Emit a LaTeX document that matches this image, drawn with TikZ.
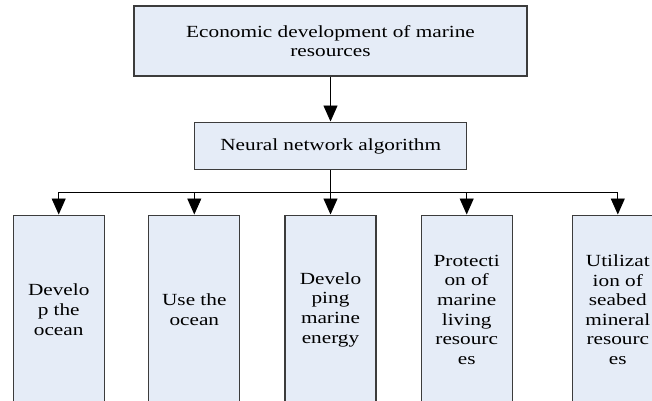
\documentclass[tikz,border=0pt]{standalone}
\usepackage{fontspec}
\setmainfont[FakeStretch=1.25]{Liberation Serif}
\usetikzlibrary{arrows.meta}
\definecolor{boxfill}{RGB}{229,236,247}
\definecolor{boxline}{RGB}{60,60,60}
\tikzset{
  box/.style={draw=boxline, line width=1.2pt, fill=boxfill, align=center, inner sep=0pt,
    font=\fontsize{17}{19.6}\selectfont},
  tallbox/.style={box, minimum width=91pt, minimum height=188pt},
  conn/.style={line width=0.9pt, black},
  arr/.style={conn, -{Triangle[length=16pt, width=14pt]}, shorten >=0.6pt}
}
\begin{document}
\begin{tikzpicture}[x=1pt, y=-1pt]
\useasboundingbox (0,0) rectangle (652,400);
\begin{scope}
\clip (0,0) rectangle (652,400);
\node[box, minimum width=393pt, minimum height=70pt] (top) at (330.5,41)
  {Economic development of marine\\resources};
\node[box, minimum width=272pt, minimum height=46.6pt] (nn) at (330.7,146)
  {Neural network algorithm};
\node[tallbox] (b1) at (58.7,309.7) {Develo\\p the\\ocean};
\node[tallbox] (b2) at (194.3,309.7) {Use the\\ocean};
\node[tallbox] (b3) at (330.5,309.7) {Develo\\ping\\marine\\energy};
\node[tallbox] (b4) at (466.7,309.7) {Protecti\\on of\\marine\\living\\resourc\\es};
\node[tallbox] (b5) at (617.8,309.7) {Utilizat\\ion of\\seabed\\mineral\\resourc\\es};
\coordinate (bus) at (330.5,192.3);
\draw[arr] (top.south) -- (top.south |- nn.north);
\draw[conn] (nn.south) -- (nn.south |- bus);
\draw[conn] (b1.north |- bus) -- (b5.north |- bus);
\foreach \b in {b1,b2,b3,b4,b5} {
  \draw[arr] (\b.north |- bus) -- (\b.north);
}
\end{scope}
\end{tikzpicture}
\end{document}
